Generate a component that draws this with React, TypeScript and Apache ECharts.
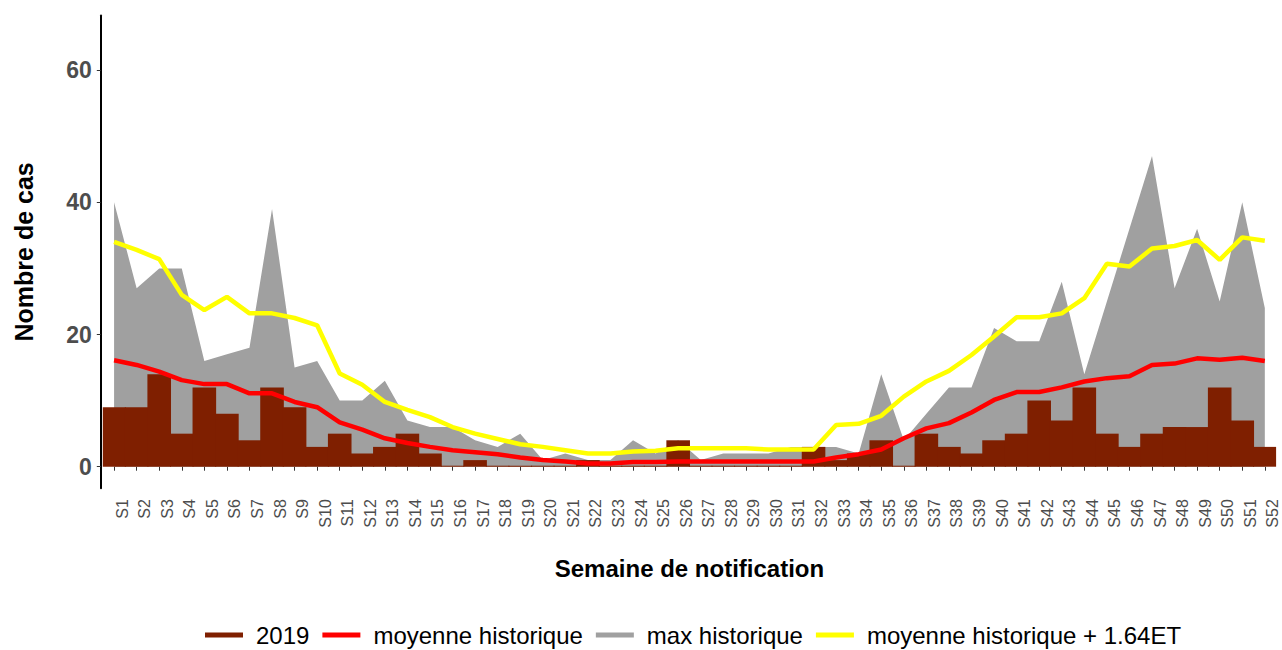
import React, { useEffect, useRef } from "react";
import * as echarts from "echarts";

const weeks = [
  "S1", "S2", "S3", "S4", "S5", "S6", "S7", "S8", "S9", "S10",
  "S11", "S12", "S13", "S14", "S15", "S16", "S17", "S18", "S19", "S20",
  "S21", "S22", "S23", "S24", "S25", "S26", "S27", "S28", "S29", "S30",
  "S31", "S32", "S33", "S34", "S35", "S36", "S37", "S38", "S39", "S40",
  "S41", "S42", "S43", "S44", "S45", "S46", "S47", "S48", "S49", "S50",
  "S51", "S52",
];

const cases2019 = [
  9, 9, 14, 5, 12, 8, 4, 12, 9, 3,
  5, 2, 3, 5, 2, 0, 1, 0, 0, 0,
  0, 1, 0, 0, 0, 4, 0, 0, 0, 0,
  0, 3, 1, 2, 4, 0, 5, 3, 2, 4,
  5, 10, 7, 12, 5, 3, 5, 6, 6, 12,
  7, 3,
];

const maxHist = [
  40, 27, 30, 30, 16, 17, 18, 39, 15, 16,
  10, 10, 13, 7, 6, 6, 4, 3, 5, 1,
  2, 1, 1, 4, 2, 4, 1, 2, 2, 2,
  3, 3, 3, 2, 14, 4, 8, 12, 12, 21,
  19, 19, 28, 14, 25, 36, 47, 27, 36, 25,
  40, 24,
];

const meanHist = [
  16.1, 15.4, 14.4, 13.1, 12.5, 12.5, 11.1, 11.1, 9.8, 9.0,
  6.7, 5.6, 4.3, 3.6, 3.0, 2.5, 2.2, 1.9, 1.4, 1.0,
  0.8, 0.5, 0.5, 0.7, 0.7, 0.8, 0.8, 0.8, 0.8, 0.8,
  0.8, 0.8, 1.4, 1.9, 2.6, 4.3, 5.8, 6.6, 8.2, 10.1,
  11.3, 11.3, 12.0, 12.9, 13.4, 13.7, 15.4, 15.6, 16.4, 16.2,
  16.5, 16.0,
];

const upperHist = [
  34.0, 32.8, 31.4, 26.0, 23.7, 25.7, 23.2, 23.2, 22.5, 21.4,
  14.1, 12.4, 9.8, 8.6, 7.5, 6.0, 5.0, 4.2, 3.4, 3.0,
  2.5, 2.0, 2.0, 2.3, 2.4, 2.8, 2.8, 2.8, 2.8, 2.6,
  2.6, 2.6, 6.3, 6.5, 7.7, 10.6, 12.9, 14.5, 16.9, 19.7,
  22.6, 22.6, 23.2, 25.5, 30.7, 30.3, 33.0, 33.4, 34.3, 31.3,
  34.7, 34.2,
];

const yTicks = [0, 20, 40, 60];

const FONT = "'Liberation Sans', Arial, sans-serif";
const C_2019 = "#7F1F00";
const C_MEAN = "#FF0000";
const C_MAX = "#A0A0A0";
const C_UP = "#FFFF00";

export default function App() {
  const ref = useRef<HTMLDivElement>(null);

  useEffect(() => {
    const chart = echarts.init(ref.current!, null, { renderer: "svg" });
    chart.setOption({
      animation: false,
      backgroundColor: "#ffffff",
      textStyle: { fontFamily: FONT },
      grid: { left: 102.8, right: 5.9, top: 15.6, bottom: 161.8 },
      legend: {
        left: 200,
        top: 618,
        icon: "rect",
        itemWidth: 38,
        itemHeight: 5,
        itemGap: 13,
        textStyle: { fontSize: 24, color: "#000", fontFamily: FONT, padding: [0, 0, 0, 8] },
        data: [
          { name: "2019", itemStyle: { color: C_2019 } },
          { name: "moyenne historique", itemStyle: { color: C_MEAN } },
          { name: "max historique", itemStyle: { color: C_MAX } },
          { name: "moyenne historique + 1.64ET", itemStyle: { color: C_UP } },
        ],
      },
      xAxis: {
        type: "category",
        data: weeks,
        boundaryGap: true,
        axisLine: { show: false },
        axisTick: { show: true, alignWithLabel: true, length: 4, lineStyle: { color: "#333333", width: 1 } },
        axisLabel: {
          interval: 0,
          rotate: 90,
          fontSize: 16,
          color: "#4D4D4D",
          margin: 11,
          verticalAlign: "top",
          fontFamily: FONT,
        },
        splitLine: { show: false },
        name: "Semaine de notification",
        nameLocation: "middle",
        nameGap: 68,
        nameTextStyle: { fontSize: 24, fontWeight: "bold", color: "#000", fontFamily: FONT },
      },
      yAxis: {
        type: "value",
        min: -3.25,
        max: 68.25,
        offset: 2,
        axisLine: { show: true, lineStyle: { color: "#000", width: 2 } },
        axisTick: { show: true, length: 4, customValues: yTicks, lineStyle: { color: "#333333", width: 1 } },
        axisLabel: {
          customValues: yTicks,
          fontSize: 23,
          fontWeight: "bold",
          color: "#4D4D4D",
          margin: 9,
          fontFamily: FONT,
        },
        splitLine: { show: false },
        name: "Nombre de cas",
        nameLocation: "middle",
        nameRotate: 90,
        nameGap: 64,
        nameTextStyle: { fontSize: 25, fontWeight: "bold", color: "#000", fontFamily: FONT },
      },
      series: [
        {
          name: "max historique",
          type: "line",
          data: maxHist,
          symbol: "none",
          z: 1,
          color: C_MAX,
          lineStyle: { width: 0, color: C_MAX },
          itemStyle: { color: C_MAX },
          areaStyle: { color: C_MAX, opacity: 1 },
        },
        {
          name: "2019",
          type: "bar",
          data: cases2019,
          z: 2,
          barWidth: 23.6,
          barMinHeight: 1,
          color: C_2019,
          itemStyle: { color: C_2019, borderWidth: 0 },
        },
        {
          name: "moyenne historique",
          type: "line",
          data: meanHist,
          symbol: "none",
          z: 3,
          color: C_MEAN,
          lineStyle: { width: 4.5, color: C_MEAN },
          itemStyle: { color: C_MEAN },
        },
        {
          name: "moyenne historique + 1.64ET",
          type: "line",
          data: upperHist,
          symbol: "none",
          z: 4,
          color: C_UP,
          lineStyle: { width: 4.5, color: C_UP },
          itemStyle: { color: C_UP },
        },
      ],
    });
    return () => chart.dispose();
  }, []);

  return (
    <div
      ref={ref}
      style={{ position: "fixed", left: 0, top: 0, width: 1282, height: 650, background: "#fff" }}
    />
  );
}
